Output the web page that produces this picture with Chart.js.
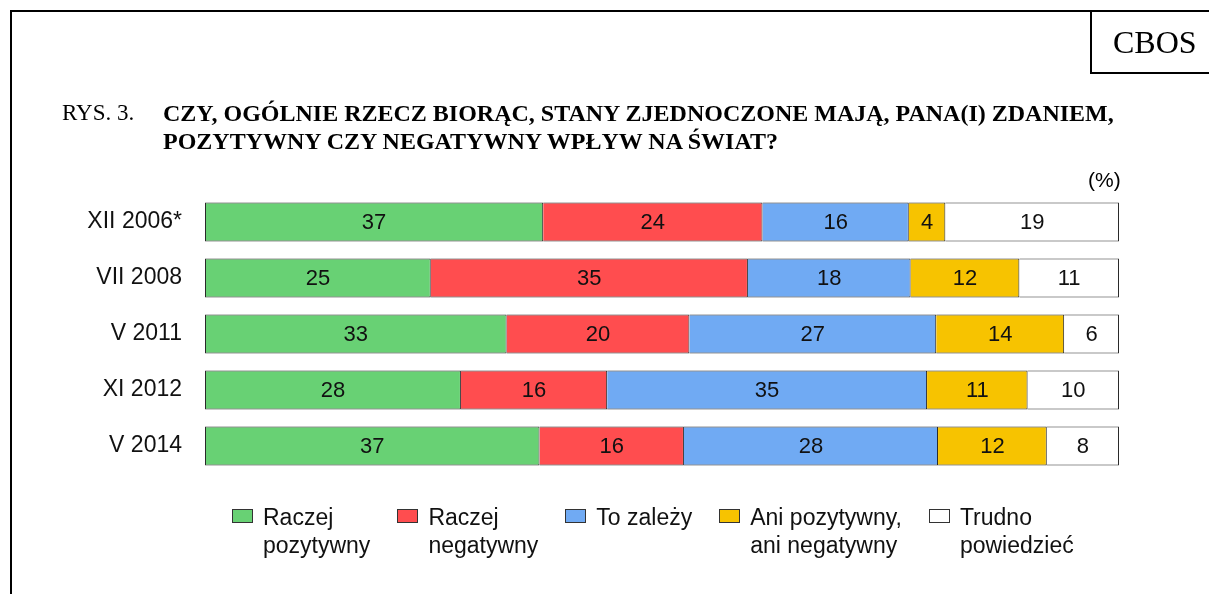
<!DOCTYPE html>
<html lang="pl">
<head>
<meta charset="utf-8">
<script src="https://cdn.jsdelivr.net/npm/chart.js@4"></script>
<style>
  html, body { margin: 0; padding: 0; background: #fff; }
  body { width: 1209px; height: 594px; position: relative; overflow: hidden; }
  #chart { position: absolute; left: 0; top: 0; }
  .frame { position: absolute; left: 10px; top: 10px; width: 1220px; height: 600px;
           border-top: 2px solid #000; border-left: 2px solid #000; }
  .cbos { position: absolute; left: 1090px; top: 10px; width: 130px; height: 64px;
          border-left: 2px solid #000; border-bottom: 2px solid #000;
          font: 32px "Liberation Serif", serif; line-height: 64px; padding-left: 21px; box-sizing: border-box; }
  .rys { position: absolute; left: 62px; top: 99px; font: 23px "Liberation Serif", serif; line-height: 28px; }
  .question { position: absolute; left: 163px; top: 99px; font: bold 24px "Liberation Serif", serif;
              line-height: 28px; white-space: nowrap; }
  .unit { position: absolute; left: 1088px; top: 168px; font: 21px "Liberation Sans", Arial, sans-serif; }
  #legend { position: absolute; left: 232px; top: 503px; display: flex; gap: 27px;
            font: 23px "Liberation Sans", Arial, sans-serif; line-height: 28px; color: #111; }
  .item { display: flex; align-items: flex-start; }
  .swatch { width: 19px; height: 12px; border: 1px solid #333; margin-top: 6px; margin-right: 10px; flex: none; }
</style>
</head>
<body>
<canvas id="chart" width="1209" height="594"></canvas>
<div class="frame"></div>
<div class="cbos">CBOS</div>
<div class="rys">RYS. 3.</div>
<div class="question">CZY, OGÓLNIE RZECZ BIORĄC, STANY ZJEDNOCZONE MAJĄ, PANA(I) ZDANIEM,<br>POZYTYWNY CZY NEGATYWNY WPŁYW NA ŚWIAT?</div>
<div class="unit">(%)</div>
<div id="legend"></div>
<script>
// Survey waves
const categories = ['XII 2006*', 'VII 2008', 'V 2011', 'XI 2012', 'V 2014'];

// Series (percent) - bar lengths, printed rounded
const raczejPozytywny = [37, 24.7, 33, 28, 36.6];
const raczejNegatywny = [24, 34.7, 20, 16, 15.8];
const toZalezy        = [16, 17.8, 27, 35, 27.8];
const aniAni          = [4, 11.9, 14, 11, 11.9];
const trudnoPowiedziec = [19, 10.9, 6, 10, 7.9];

const seriesNames = [
    ['Raczej', 'pozytywny'],
    ['Raczej', 'negatywny'],
    ['To zależy'],
    ['Ani pozytywny,', 'ani negatywny'],
    ['Trudno', 'powiedzieć']
];
const seriesColors = ['#68d174', '#ff4d4f', '#70aaf3', '#f7c300', '#ffffff'];

(function() {
    'use strict';

    const allSeries = [raczejPozytywny, raczejNegatywny, toZalezy, aniAni, trudnoPowiedziec];

    const datasets = allSeries.map((values, i) => ({
        label: seriesNames[i].join(' '),
        data: values,
        backgroundColor: seriesColors[i],
        borderColor: '#2a2a2a',
        borderWidth: 1,
        borderSkipped: i === 0 ? false : 'start',
        barPercentage: 0.7,
        categoryPercentage: 1.0
    }));

    // Value labels in the middle of each segment
    const valueLabels = {
        id: 'valueLabels',
        afterDatasetsDraw(chart) {
            const ctx = chart.ctx;
            ctx.save();
            ctx.font = '22px "Liberation Sans", Arial, sans-serif';
            ctx.fillStyle = '#111';
            ctx.textAlign = 'center';
            ctx.textBaseline = 'middle';
            chart.data.datasets.forEach((ds, i) => {
                chart.getDatasetMeta(i).data.forEach((bar, j) => {
                    const p = bar.getCenterPoint();
                    ctx.fillText(String(Math.round(ds.data[j])), p.x, p.y + 1);
                });
            });
            ctx.restore();
        }
    };

    new Chart(document.getElementById('chart'), {
        type: 'bar',
        data: { labels: categories, datasets: datasets },
        options: {
            indexAxis: 'y',
            responsive: false,
            animation: false,
            layout: { padding: { left: 0, right: 90, top: 194, bottom: 120 } },
            plugins: {
                legend: { display: false },
                tooltip: { enabled: false }
            },
            scales: {
                x: {
                    stacked: true,
                    min: 0,
                    max: 100,
                    display: false
                },
                y: {
                    stacked: true,
                    grid: { display: false },
                    border: { display: false },
                    ticks: {
                        padding: 15,
                        color: '#111',
                        font: { size: 23, family: '"Liberation Sans", Arial, sans-serif' }
                    },
                    afterFit(scale) { scale.width = 205; }
                }
            }
        },
        plugins: [valueLabels]
    });

    // HTML legend with two-line labels
    const legend = document.getElementById('legend');
    seriesNames.forEach((lines, i) => {
        const item = document.createElement('div');
        item.className = 'item';
        const sw = document.createElement('span');
        sw.className = 'swatch';
        sw.style.background = seriesColors[i];
        const txt = document.createElement('span');
        txt.innerHTML = lines.join('<br>');
        item.appendChild(sw);
        item.appendChild(txt);
        legend.appendChild(item);
    });
})();
</script>
</body>
</html>
